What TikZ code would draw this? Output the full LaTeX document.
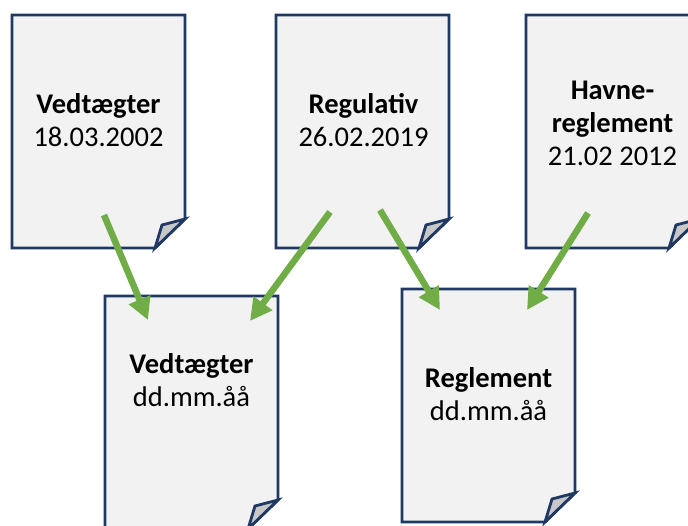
\documentclass[tikz,border=0pt]{standalone}
\usepackage{fontspec}
\setmainfont{Carlito}
\usetikzlibrary{arrows.meta,backgrounds,positioning}
\definecolor{pageline}{HTML}{1F3864}
\definecolor{pagefill}{HTML}{F2F2F2}
\definecolor{foldfill}{HTML}{C8C8C8}
\definecolor{arrowgreen}{HTML}{70AD47}
\tikzset{
  doc/.style={minimum width=173pt, minimum height=233pt, inner sep=0pt, outer sep=0pt},
  doctext/.style={align=center, font=\fontsize{28.5}{33}\selectfont},
  merge/.style={arrowgreen, line width=6.5pt, -{Triangle[length=22pt,width=22pt]}},
  docline/.style={draw=pageline, line width=2.8pt},
}
\begin{document}
\begin{tikzpicture}[x=1pt,y=-1pt]
    \useasboundingbox (0,0) rectangle (688,525);
    % documents
    \node[doc] (ved1) at (98.5,131.5) {};
    \node[doc] (regu) at (362.5,131.5) {};
    \node[doc] (havn) at (612.5,131.5) {};
    \node[doc] (ved2) at (191.5,412.5) {};
    \node[doc] (regl) at (488.5,405.5) {};
    \begin{scope}[on background layer]
    \foreach \n in {ved1,regu,havn,ved2,regl}{
      \filldraw[docline, fill=pagefill] (\n.north west) -- (\n.north east)
        -- ([yshift=29pt]\n.south east) -- ([xshift=-30pt]\n.south east)
        -- (\n.south west) -- cycle;
      \filldraw[docline, fill=foldfill] ([xshift=-30pt]\n.south east)
        -- ([xshift=-23pt,yshift=23pt]\n.south east)
        -- ([yshift=29pt]\n.south east) -- cycle;
    }
    \end{scope}
    \node[doctext] (ved1txt) at ([yshift=11.5pt]ved1.center) {\textbf{Vedtægter}\\18.03.2002};
    \node[doctext] (regutxt) at ([xshift=1pt,yshift=11.5pt]regu.center) {\textbf{Regulativ}\\26.02.2019};
    \node[doctext] (havntxt) at ([yshift=8.5pt]havn.center) {\textbf{Havne-}\\\textbf{reglement}\\21.02 2012};
    \node[doctext] (ved2txt) at ([yshift=32.5pt]ved2.center) {\textbf{Vedtægter}\\dd.mm.åå};
    \node[doctext] (regltxt) at ([yshift=11pt]regl.center) {\textbf{Reglement}\\dd.mm.åå};
    % merging arrows
    \coordinate (ved1out) at (104,215);
    \coordinate (reguoutA) at (330,212);
    \coordinate (reguoutB) at (380,210);
    \coordinate (havnout) at (588,213);
    \coordinate (ved2inA) at (148,320);
    \coordinate (ved2inB) at (250,321);
    \coordinate (reglinA) at (440,310);
    \coordinate (reglinB) at (527,310);
    \draw[merge] (ved1out) -- (ved2inA);
    \draw[merge] (reguoutA) -- (ved2inB);
    \draw[merge] (reguoutB) -- (reglinA);
    \draw[merge] (havnout) -- (reglinB);
  \end{tikzpicture}
\end{document}
